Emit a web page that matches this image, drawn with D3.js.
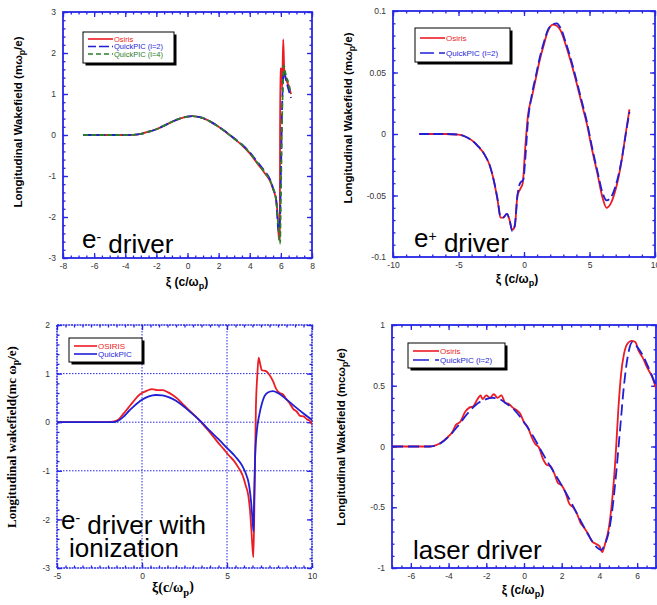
<!DOCTYPE html>
<html>
<head>
<meta charset="utf-8">
<script src="https://cdn.jsdelivr.net/npm/d3@7"></script>
<style>
  body { margin: 0; background: #fff; }
  svg { display: block; }
  .tick text { font-family: "Liberation Sans", Arial, sans-serif; font-size: 8.5px; fill: #333; }
</style>
</head>
<body>
<div id="chart"></div>
<script>
// ---- data (xi, Ez) ----
var p1Osiris = [[-6.7,0],[-5,0],[-4,0],[-3.5,0.005],[-3,0.03],[-2.5,0.08],[-2,0.14],[-1.5,0.23],[-1,0.32],[-0.5,0.4],[0,0.45],[0.3,0.46],[0.7,0.44],[1,0.41],[1.5,0.32],[2,0.2],[2.5,0.06],[3,-0.09],[3.5,-0.25],[4,-0.45],[4.5,-0.7],[5,-0.95],[5.3,-1.12],[5.5,-1.32],[5.7,-1.6],[5.8,-2.0],[5.87,-2.55],[5.93,-2.5],[5.96,1.62],[6.05,1.62],[6.08,1.1],[6.15,2.33],[6.22,1.55],[6.3,1.4],[6.5,1.2],[6.65,1.0]];
var p1Quick2 = [[-6.7,0],[-5,0],[-4,0],[-3.5,0.005],[-3,0.03],[-2.5,0.08],[-2,0.14],[-1.5,0.23],[-1,0.32],[-0.5,0.4],[0,0.45],[0.3,0.46],[0.7,0.44],[1,0.41],[1.5,0.32],[2,0.2],[2.5,0.07],[3,-0.08],[3.5,-0.23],[4,-0.42],[4.5,-0.66],[5,-0.9],[5.3,-1.08],[5.5,-1.3],[5.7,-1.58],[5.85,-2.35],[5.95,-2.0],[6.0,-1.0],[6.1,1.0],[6.2,1.55],[6.35,1.3],[6.5,1.1],[6.65,0.9]];
var p1Quick4 = [[-6.7,0],[-5,0],[-4,0],[-3.5,0.005],[-3,0.03],[-2.5,0.08],[-2,0.14],[-1.5,0.23],[-1,0.32],[-0.5,0.4],[0,0.45],[0.3,0.46],[0.7,0.44],[1,0.41],[1.5,0.32],[2,0.2],[2.5,0.06],[3,-0.09],[3.5,-0.24],[4,-0.44],[4.5,-0.68],[5,-0.93],[5.3,-1.1],[5.5,-1.3],[5.7,-1.6],[5.85,-2.3],[5.95,-2.65],[6.0,-1.5],[6.1,0.8],[6.2,1.7],[6.3,1.5],[6.5,1.25],[6.65,1.0]];

var p2Osiris = [[-8,0],[-6,0],[-5,-0.0005],[-4.5,-0.002],[-4,-0.005],[-3.5,-0.01],[-3,-0.017],[-2.6,-0.026],[-2.3,-0.038],[-2,-0.055],[-1.8,-0.068],[-1.6,-0.068],[-1.3,-0.065],[-1.1,-0.07],[-0.9,-0.078],[-0.7,-0.075],[-0.5,-0.05],[-0.3,-0.045],[-0.1,-0.04],[0.1,-0.01],[0.3,0.015],[0.6,0.03],[0.9,0.045],[1.2,0.06],[1.5,0.072],[1.8,0.083],[2.2,0.089],[2.5,0.088],[2.8,0.084],[3.2,0.072],[3.6,0.058],[4,0.042],[4.4,0.025],[4.8,0.008],[5.2,-0.013],[5.6,-0.032],[6,-0.052],[6.3,-0.06],[6.6,-0.057],[7,-0.045],[7.4,-0.025],[7.8,0.003],[8.05,0.02]];
var p2Quick2 = [[-8,0],[-6,0],[-5,-0.0005],[-4.5,-0.002],[-4,-0.005],[-3.5,-0.01],[-3,-0.017],[-2.6,-0.026],[-2.3,-0.038],[-2,-0.054],[-1.8,-0.067],[-1.6,-0.068],[-1.3,-0.065],[-1.1,-0.07],[-0.9,-0.079],[-0.7,-0.074],[-0.5,-0.05],[-0.3,-0.04],[-0.05,-0.037],[0.1,-0.02],[0.3,0.01],[0.6,0.032],[0.9,0.047],[1.2,0.062],[1.5,0.074],[1.8,0.084],[2.2,0.089],[2.5,0.09],[2.8,0.086],[3.2,0.074],[3.6,0.06],[4,0.044],[4.4,0.027],[4.8,0.01],[5.2,-0.011],[5.6,-0.03],[6,-0.048],[6.3,-0.054],[6.6,-0.052],[7,-0.042],[7.4,-0.024],[7.8,0.002],[8.05,0.018]];

var p3Osiris = [[-5,0],[-2,0],[-1.7,0.01],[-1.4,0.05],[-1.1,0.17],[-0.8,0.3],[-0.5,0.43],[-0.2,0.55],[0,0.6],[0.3,0.65],[0.6,0.68],[0.9,0.66],[1.2,0.66],[1.5,0.62],[1.8,0.56],[2.1,0.48],[2.4,0.37],[2.7,0.27],[3,0.17],[3.3,0.07],[3.6,-0.05],[3.9,-0.17],[4.2,-0.3],[4.5,-0.43],[4.8,-0.55],[5.1,-0.68],[5.4,-0.79],[5.7,-0.95],[5.9,-1.08],[6.1,-1.3],[6.25,-1.5],[6.35,-1.8],[6.45,-2.3],[6.55,-2.78],[6.62,-1.5],[6.7,0.3],[6.78,0.95],[6.86,1.33],[6.95,1.2],[7.05,1.07],[7.3,1.05],[7.5,0.97],[7.7,0.85],[7.9,0.68],[8.1,0.6],[8.3,0.57],[8.5,0.47],[8.7,0.38],[8.9,0.27],[9.1,0.22],[9.3,0.13],[9.5,0.12],[9.7,0.06],[9.9,0.02],[10,-0.05]];
var p3Quick = [[-5,0],[-1.7,0],[-1.4,0.03],[-1.1,0.11],[-0.8,0.22],[-0.5,0.32],[-0.2,0.41],[0,0.46],[0.4,0.53],[0.8,0.56],[1.2,0.55],[1.6,0.51],[2,0.44],[2.5,0.31],[3,0.16],[3.5,0],[4,-0.18],[4.5,-0.35],[5,-0.53],[5.5,-0.71],[5.9,-0.9],[6.1,-1.05],[6.3,-1.3],[6.42,-1.65],[6.5,-2.0],[6.56,-2.25],[6.6,-1.5],[6.65,-0.75],[6.75,-0.2],[6.9,0.15],[7.05,0.38],[7.2,0.53],[7.4,0.61],[7.7,0.64],[8,0.6],[8.5,0.47],[9,0.32],[9.5,0.18],[10,0.05]];

var p4Osiris = [[-7,0],[-5,0],[-4.7,0.01],[-4.4,0.03],[-4.1,0.07],[-3.8,0.12],[-3.6,0.18],[-3.4,0.2],[-3.1,0.29],[-2.9,0.32],[-2.7,0.33],[-2.5,0.38],[-2.3,0.42],[-2.2,0.39],[-2.0,0.42],[-1.8,0.4],[-1.6,0.43],[-1.4,0.4],[-1.2,0.42],[-1.0,0.36],[-0.8,0.35],[-0.6,0.32],[-0.4,0.3],[-0.2,0.27],[0,0.2],[0.2,0.16],[0.4,0.08],[0.6,0.02],[0.8,-0.01],[1.0,-0.1],[1.2,-0.15],[1.4,-0.16],[1.6,-0.22],[1.8,-0.3],[2.0,-0.32],[2.2,-0.38],[2.4,-0.47],[2.6,-0.5],[2.8,-0.55],[3.0,-0.63],[3.2,-0.67],[3.4,-0.72],[3.6,-0.78],[3.8,-0.8],[4.0,-0.82],[4.15,-0.87],[4.3,-0.8],[4.5,-0.67],[4.7,-0.4],[4.85,-0.1],[5.0,0.3],[5.15,0.6],[5.3,0.76],[5.5,0.85],[5.7,0.87],[5.9,0.86],[6.1,0.78],[6.3,0.73],[6.5,0.66],[6.8,0.57],[7,0.48]];
var p4Quick2 = [[-7,0],[-5,0],[-4.5,0.02],[-4,0.08],[-3.5,0.17],[-3,0.27],[-2.5,0.35],[-2,0.39],[-1.7,0.4],[-1.3,0.39],[-1,0.36],[-0.5,0.3],[0,0.2],[0.5,0.08],[1,-0.06],[1.5,-0.19],[2,-0.32],[2.5,-0.46],[3,-0.61],[3.5,-0.75],[3.8,-0.82],[4.1,-0.85],[4.3,-0.8],[4.5,-0.7],[4.7,-0.5],[4.9,-0.2],[5.1,0.15],[5.3,0.5],[5.5,0.74],[5.75,0.86],[6,0.82],[6.3,0.75],[6.6,0.65],[7,0.5]];

// tick labels
var p1XTicks = [-8,-6,-4,-2,0,2,4,6,8], p1YTicks = [-3,-2,-1,0,1,2,3];
var p2XTicks = [-10,-5,0,5,10], p2YTicks = [-0.1,-0.05,0,0.05,0.1];
var p3XTicks = [-5,0,5,10], p3YTicks = [-3,-2,-1,0,1,2];
var p4XTicks = [-6,-4,-2,0,2,4,6], p4YTicks = [-1,-0.5,0,0.5,1];

var RED = '#ec1c24', BLUE = '#1f1fd6', GREEN = '#2b7d2b', INK = '#2626e6';
var sans = '"Liberation Sans", Arial, sans-serif', serif = '"Liberation Serif", "Times New Roman", serif';

var svg = d3.select('#chart').append('svg').attr('width', 657).attr('height', 605);

function panel(c) {
    var g = svg.append('g');
    var x = d3.scaleLinear().domain(c.xDom).range([c.l, c.r]);
    var y = d3.scaleLinear().domain(c.yDom).range([c.b, c.t]);
    var fmt = d => String(+d.toFixed(3));

    if (c.grid) {
        c.grid.x.forEach(v => g.append('line').attr('x1', x(v)).attr('x2', x(v)).attr('y1', c.t).attr('y2', c.b)
            .attr('stroke', INK).attr('stroke-width', 1).attr('stroke-dasharray', '1.5,1.5'));
        c.grid.y.forEach(v => g.append('line').attr('x1', c.l).attr('x2', c.r).attr('y1', y(v)).attr('y2', y(v))
            .attr('stroke', INK).attr('stroke-width', 1).attr('stroke-dasharray', '1.5,1.5'));
    }

    var minX = d3.range(c.xDom[0], c.xDom[1] + 1e-9, c.xMinor).map(v => +v.toFixed(4));
    var minY = d3.range(c.yDom[0], c.yDom[1] + 1e-9, c.yMinor).map(v => +v.toFixed(4));

    var axes = [
        [d3.axisBottom(x).tickValues(c.xTicks).tickFormat(fmt).tickPadding(5), `translate(0,${c.b})`],
        [d3.axisLeft(y).tickValues(c.yTicks).tickFormat(fmt).tickPadding(7), `translate(${c.l},0)`],
        [d3.axisTop(x).tickValues(c.xTicks).tickFormat(''), `translate(0,${c.t})`],
        [d3.axisRight(y).tickValues(c.yTicks).tickFormat(''), `translate(${c.r},0)`],
        [d3.axisBottom(x).tickValues(minX).tickFormat('').tickSize(-2.5), `translate(0,${c.b})`],
        [d3.axisLeft(y).tickValues(minY).tickFormat('').tickSize(-2.5), `translate(${c.l},0)`],
        [d3.axisTop(x).tickValues(minX).tickFormat('').tickSize(-2.5), `translate(0,${c.t})`],
        [d3.axisRight(y).tickValues(minY).tickFormat('').tickSize(-2.5), `translate(${c.r},0)`]
    ];
    axes.forEach(function (a, i) {
        if (i < 4) a[0].tickSize(-5);
        var ax = g.append('g').attr('transform', a[1]).call(a[0]);
        ax.select('.domain').remove();
        ax.selectAll('.tick line').attr('stroke', INK).attr('stroke-width', 1.3);
    });

    g.append('rect').attr('x', c.l).attr('y', c.t).attr('width', c.r - c.l).attr('height', c.b - c.t)
        .attr('fill', 'none').attr('stroke', INK).attr('stroke-width', c.grid ? 1.6 : 1.8)
        .attr('stroke-dasharray', c.grid ? '2,0.8' : null);

    var clip = 'clip' + c.id;
    svg.append('clipPath').attr('id', clip).append('rect')
        .attr('x', c.l).attr('y', c.t - 2).attr('width', c.r - c.l).attr('height', c.b - c.t + 4);

    var line = d3.line().x(d => x(d[0])).y(d => y(d[1])).curve(d3.curveMonotoneX);
    c.series.forEach(s => g.append('path').datum(s.data).attr('d', line).attr('clip-path', `url(#${clip})`)
        .attr('fill', 'none').attr('stroke', s.color).attr('stroke-width', 1.8)
        .attr('stroke-dasharray', s.dash || null).attr('stroke-linejoin', 'round'));

    // legend
    var L = c.legend;
    g.append('rect').attr('x', L.x + 2.5).attr('y', L.y + 2.5).attr('width', L.w).attr('height', L.h).attr('fill', '#000');
    g.append('rect').attr('x', L.x).attr('y', L.y).attr('width', L.w).attr('height', L.h)
        .attr('fill', '#fff').attr('stroke', '#000').attr('stroke-width', 1);
    c.series.forEach(function (s, i) {
        var yy = L.y + L.row0 + i * L.step;
        g.append('line').attr('x1', L.x + 5).attr('x2', L.x + L.lineW).attr('y1', yy).attr('y2', yy)
            .attr('stroke', s.color).attr('stroke-width', 1.6).attr('stroke-dasharray', s.legDash || null);
        g.append('text').attr('x', L.x + L.lineW + 1).attr('y', yy + 2.8).text(s.name)
            .attr('fill', s.color).style('font-family', sans).style('font-size', (L.fs || 8.5) + 'px');
    });

    // axis titles
    var yl = g.append('text').attr('transform', `translate(${c.yLab.x},${c.yLab.y})rotate(-90)`)
        .attr('text-anchor', 'middle').style('font-family', c.yLab.font).style('font-weight', 'bold')
        .style('font-size', c.yLab.size + 'px');
    yl.append('tspan').text(c.yLab.pre);
    yl.append('tspan').text('p').attr('dy', '0.35em').style('font-size', (c.yLab.size * 0.75) + 'px');
    yl.append('tspan').text('/e)').attr('dy', '-0.3em');

    var xl = g.append('text').attr('x', c.xLab.x).attr('y', c.xLab.y).attr('text-anchor', 'middle')
        .style('font-family', c.xLab.font).style('font-weight', 'bold').style('font-size', c.xLab.size + 'px');
    xl.append('tspan').text(c.xLab.pre);
    xl.append('tspan').text('p').attr('dy', '0.35em').style('font-size', (c.xLab.size * 0.75) + 'px');
    xl.append('tspan').text(')').attr('dy', '-0.3em');

    // big caption
    c.caption.forEach(function (cap) {
        var t = g.append('text').attr('x', cap.x).attr('y', cap.y).style('font-family', sans).style('font-size', '26px').attr('fill', '#000');
        cap.parts.forEach(function (p) {
            if (p.sup) t.append('tspan').text(p.sup).attr('dy', '-0.45em').style('font-size', '14px');
            else t.append('tspan').text(p.t).attr('dy', p.after ? '0.45em' : null);
        });
    });
}

panel({
    id: 1, l: 63, r: 312, t: 12, b: 258, xDom: [-8, 8], yDom: [-3, 3],
    xTicks: p1XTicks, yTicks: p1YTicks, xMinor: 0.5, yMinor: 0.2,
    series: [
        { name: 'Osiris', data: p1Osiris, color: RED },
        { name: 'QuickPIC (l=2)', data: p1Quick2, color: BLUE, dash: '9,4', legDash: '8,3,2,0' },
        { name: 'QuickPIC (l=4)', data: p1Quick4, color: GREEN, dash: '5,3', legDash: '5,3' }
    ],
    legend: { x: 83, y: 32, w: 91, h: 31, row0: 7, step: 7.5, lineW: 30, fs: 7.5 },
    yLab: { x: 22, y: 122, font: sans, size: 11.5, pre: 'Longitudinal Wakefield (m\u03c9' },
    xLab: { x: 187, y: 286, font: sans, size: 12, pre: '\u03be (c/\u03c9' },
    caption: [{ x: 82, y: 248, parts: [{ t: 'e' }, { sup: '-' }, { t: ' driver', after: true }] }]
});

panel({
    id: 2, l: 393, r: 655, t: 11, b: 257, xDom: [-10, 10], yDom: [-0.1, 0.1],
    xTicks: p2XTicks, yTicks: p2YTicks, xMinor: 1, yMinor: 0.01,
    series: [
        { name: 'Osiris', data: p2Osiris, color: RED },
        { name: 'QuickPIC (l=2)', data: p2Quick2, color: BLUE, dash: '10,4', legDash: '14,5,2,0' }
    ],
    legend: { x: 415, y: 28, w: 95, h: 34, row0: 10, step: 15, lineW: 30, fs: 8 },
    yLab: { x: 352, y: 118, font: sans, size: 11.5, pre: 'Longitudinal Wakefield (m\u03c9' },
    xLab: { x: 517, y: 283, font: sans, size: 12, pre: '\u03be (c/\u03c9' },
    caption: [{ x: 414, y: 247, parts: [{ t: 'e' }, { sup: '+' }, { t: ' driver', after: true }] }]
});

panel({
    id: 3, l: 57, r: 312, t: 325, b: 568, xDom: [-5, 10], yDom: [-3, 2],
    xTicks: p3XTicks, yTicks: p3YTicks, xMinor: 0.5, yMinor: 0.2,
    grid: { x: [0, 5], y: [-1, 0, 1] },
    series: [
        { name: 'OSIRIS', data: p3Osiris, color: RED },
        { name: 'QuickPIC', data: p3Quick, color: BLUE }
    ],
    legend: { x: 69, y: 338, w: 73, h: 24, row0: 8, step: 8, lineW: 28, fs: 8 },
    yLab: { x: 16, y: 437, font: serif, size: 13, pre: 'Longitudinal  wakefield(mc \u03c9' },
    xLab: { x: 173, y: 592, font: serif, size: 14, pre: '\u03be(c/\u03c9' },
    caption: [
        { x: 61, y: 529, parts: [{ t: 'e' }, { sup: '-' }, { t: ' driver with', after: true }] },
        { x: 69, y: 557, parts: [{ t: 'ionization' }] }
    ]
});

panel({
    id: 4, l: 392, r: 656, t: 325, b: 568, xDom: [-7, 7], yDom: [-1, 1],
    xTicks: p4XTicks, yTicks: p4YTicks, xMinor: 0.5, yMinor: 0.1,
    series: [
        { name: 'Osiris', data: p4Osiris, color: RED },
        { name: 'QuickPIC (l=2)', data: p4Quick2, color: BLUE, dash: '11,5', legDash: '16,6,2,0' }
    ],
    legend: { x: 408, y: 343, w: 97, h: 25, row0: 8, step: 9, lineW: 31, fs: 8 },
    yLab: { x: 345, y: 437, font: sans, size: 11.5, pre: 'Longitudinal Wakefield (mc\u03c9' },
    xLab: { x: 523, y: 594, font: sans, size: 12, pre: '\u03be (c/\u03c9' },
    caption: [{ x: 413, y: 559, parts: [{ t: 'laser driver' }] }]
});
</script>
</body>
</html>
